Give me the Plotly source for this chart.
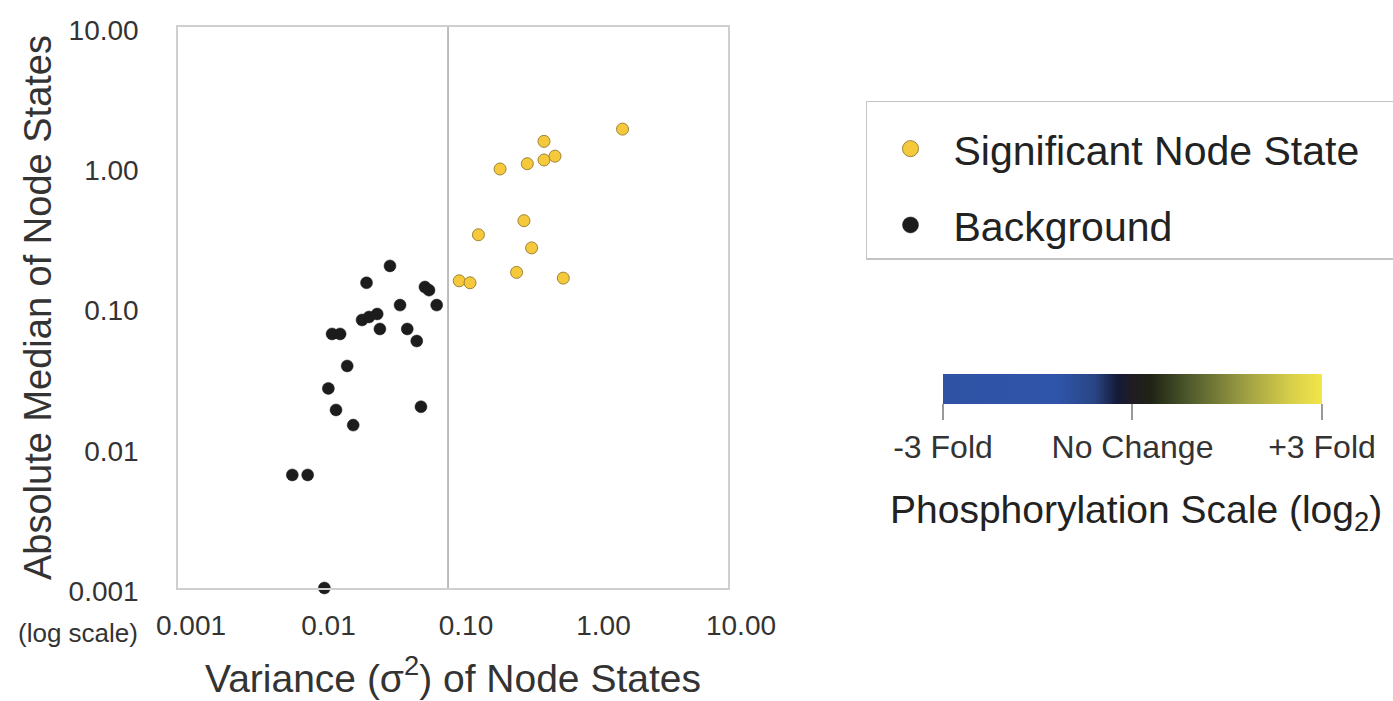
import plotly.graph_objects as go

# ---- data ----
sig_variance = [1.71, 0.459, 0.220, 0.347, 0.459, 0.552, 0.328, 0.153, 0.373, 0.290, 0.634, 0.111, 0.133]
sig_median   = [1.87, 1.53, 0.972, 1.06, 1.127, 1.20, 0.416, 0.330, 0.266, 0.178, 0.162, 0.155, 0.150]

bg_variance = [0.0348, 0.0235, 0.0625, 0.0669, 0.0412, 0.0761, 0.0281, 0.0218, 0.0245,
               0.0132, 0.0151, 0.0294, 0.0465, 0.0545, 0.0170, 0.0124, 0.0141, 0.0585,
               0.0188, 0.00678, 0.00877, 0.0116]
bg_median   = [0.198, 0.150, 0.140, 0.133, 0.104, 0.104, 0.0899, 0.0815, 0.0856,
               0.0648, 0.0648, 0.0703, 0.0703, 0.0577, 0.0383, 0.0265, 0.0186, 0.0196,
               0.0145, 0.0064, 0.0064, 0.001]

variance_threshold = 0.092

tick_vals = [0.001, 0.01, 0.1, 1, 10]
x_tick_text = ["0.001", "0.01", "0.10", "1.00", "10.00"]
y_tick_text = ["0.001", "0.01", "0.10", "1.00", "10.00"]

scale_vals = [-3, 0, 3]
scale_text = ["-3 Fold", "No Change", "+3 Fold"]

series_names = ["Significant Node State", "Background"]

FONT = "Liberation Sans, Arial, sans-serif"
TXT = "#333333"

SIG_MARKER = dict(color="#F6C93C", line=dict(color="#9c8434", width=1))
BG_MARKER = dict(color="#1c1c1c", line=dict(color="#1c1c1c", width=0.5))

fig = go.Figure()

fig.add_trace(go.Scatter(
    x=sig_variance, y=sig_median, mode="markers", name=series_names[0],
    marker=dict(size=12, **SIG_MARKER), cliponaxis=False, showlegend=False,
))
fig.add_trace(go.Scatter(
    x=bg_variance, y=bg_median, mode="markers", name=series_names[1],
    marker=dict(size=12, **BG_MARKER), cliponaxis=False, showlegend=False,
))
# legend entries (larger symbols, as in the reference key)
fig.add_trace(go.Scatter(
    x=[None], y=[None], mode="markers", name=series_names[0] + "\u00a0\u00a0\u00a0",
    marker=dict(size=19, **SIG_MARKER), legendgroup="a", hoverinfo="skip",
))
fig.add_trace(go.Scatter(
    x=[None], y=[None], mode="markers", name=series_names[1],
    marker=dict(size=19, **BG_MARKER), legendgroup="b", hoverinfo="skip",
))
# carrier for the phosphorylation colour scale
fig.add_trace(go.Scatter(
    x=[None], y=[None], mode="markers", showlegend=False, hoverinfo="skip",
    marker=dict(color=[0], coloraxis="coloraxis"),
))

fig.add_shape(type="line", xref="x", yref="paper", x0=variance_threshold, x1=variance_threshold,
              y0=0, y1=1, line=dict(color="#a8a8a8", width=1.5))

axis_common = dict(
    type="log", range=[-3, 1], tickmode="array", tickvals=tick_vals,
    showgrid=False, zeroline=False, showline=True, mirror=True,
    linecolor="#cfcfcf", linewidth=1.5, ticks="",
    tickfont=dict(family=FONT, size=28, color=TXT),
)

fig.update_layout(
    width=1393, height=701,
    margin=dict(l=178, r=665, t=27, b=113, autoexpand=False),
    paper_bgcolor="white", plot_bgcolor="white",
    font=dict(family=FONT, color=TXT),
    xaxis=dict(**axis_common, ticktext=x_tick_text, ticklabelstandoff=12, ticklabelshift=13,
               title=dict(text="Variance (σ<sup>2</sup>) of Node States",
                          font=dict(family=FONT, size=39, color=TXT), standoff=24)),
    yaxis=dict(**axis_common, ticktext=y_tick_text, ticklabelstandoff=32, ticklabelshift=3,
               title=dict(text="Absolute Median of Node States",
                          font=dict(family=FONT, size=38, color=TXT), standoff=5)),
    legend=dict(
        x=1.2509, y=0.8681, xanchor="left", yanchor="top",
        bordercolor="#c4c4c4", borderwidth=1.5, bgcolor="white",
        font=dict(family=FONT, size=41, color="#222222"),
        itemsizing="trace", itemwidth=76, tracegroupgap=20,
        title=dict(text=" ", font=dict(size=10)),
    ),
    coloraxis=dict(
        cmin=-3, cmax=3,
        colorscale=[
            [0.0, "#2f52a4"], [0.30, "#2f55aa"], [0.40, "#2a4585"], [0.46, "#141a38"],
            [0.50, "#1f1c22"], [0.55, "#1f2415"], [0.65, "#4f5a2c"], [0.80, "#9fa043"],
            [0.92, "#d8cf4a"], [1.0, "#f2e64a"],
        ],
        colorbar=dict(
            orientation="h", x=1.3909, xanchor="left", y=0.3815, yanchor="top",
            lenmode="pixels", len=379, thickness=30, xpad=0, ypad=0,
            outlinewidth=0, ticks="outside", ticklen=16, tickcolor="#999999", tickwidth=1.5,
            tickmode="array", tickvals=scale_vals, ticktext=scale_text,
            tickfont=dict(family=FONT, size=32, color=TXT),
        ),
    ),
    annotations=[
        dict(text="(log scale)", x=-0.1818, y=-0.0802, xref="paper", yref="paper",
             xanchor="center", yanchor="middle",
             showarrow=False, font=dict(family=FONT, size=26, color=TXT)),
        dict(text="Phosphorylation Scale (log<sub>2</sub>)", x=1.7418, y=0.1337,
             xref="paper", yref="paper", xanchor="center", yanchor="middle",
             showarrow=False, font=dict(family=FONT, size=39, color="#222222")),
    ],
)

fig.write_html("out.html")
